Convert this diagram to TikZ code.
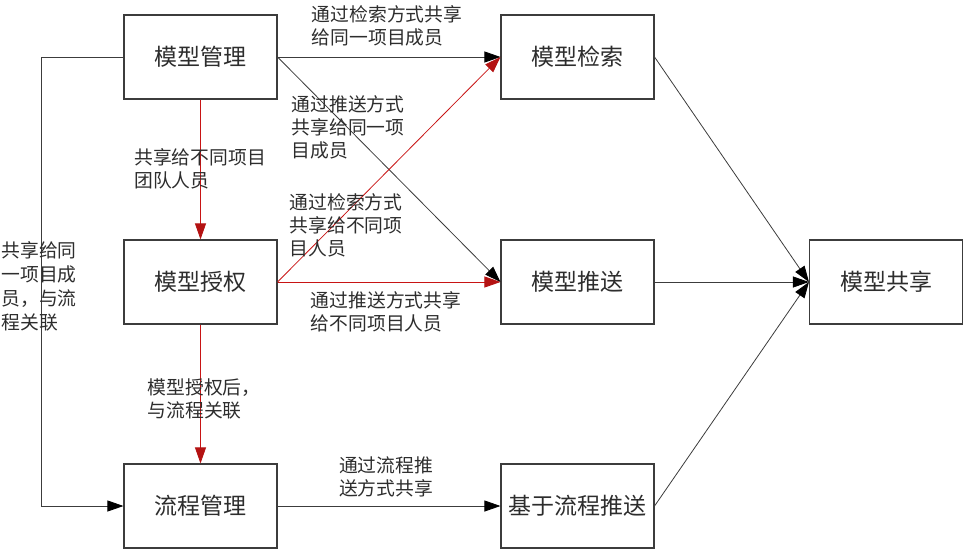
\documentclass[tikz,border=0pt]{standalone}
\usepackage{fontspec}
\newfontfamily\cjk{Noto Sans CJK SC}
\usetikzlibrary{arrows.meta}
\definecolor{lineg}{RGB}{60,60,60}
\definecolor{txtg}{RGB}{45,45,45}
\definecolor{myred}{RGB}{200,20,20}
\begin{document}
\begin{tikzpicture}[x=1pt,y=-1pt,
  box/.style={draw=lineg,line width=1.1pt,minimum width=153pt,minimum height=84pt,inner sep=0pt,
    font=\cjk\fontsize{23}{27}\selectfont,text=txtg},
  lbl/.style={font=\cjk\fontsize{18.8}{23}\selectfont,text=txtg,align=left,inner sep=0pt},
  blk/.style={draw=lineg,line width=0.8pt,-{Triangle[length=16pt,width=11pt,black]}},
  rd/.style={draw=myred,line width=0.8pt,-{Triangle[length=16pt,width=11pt,myred!90!black]}}]
\useasboundingbox (0,0) rectangle (963,549);
% boxes
\node[box] (mgmt) at (200.5,57) {模型管理};
\node[box] (auth) at (200.5,282) {模型授权};
\node[box] (flow) at (200.5,506) {流程管理};
\node[box] (srch) at (577.5,57) {模型检索};
\node[box] (push) at (577.5,282) {模型推送};
\node[box] (fpush) at (577.5,506) {基于流程推送};
\node[box] (share) at (886,282) {模型共享};
% connectors
\coordinate (lc) at (41,57);
\draw[blk] (mgmt.west) -- (lc) |- (flow.west);
\draw[blk] (mgmt.east) -- (srch.west);
\draw[blk] (mgmt.east) -- (push.west);
\draw[rd] (mgmt.south) -- (auth.north);
\draw[rd] (auth.east) -- (srch.west);
\draw[rd] (auth.east) -- (push.west);
\draw[rd] (auth.south) -- (flow.north);
\draw[blk] (flow.east) -- (fpush.west);
\draw[blk] (srch.east) -- (share.west);
\draw[blk] (push.east) -- (share.west);
\draw[blk] (fpush.east) -- (share.west);
% labels
\node[lbl] (l1) at (387,26) {通过检索方式共享\\给同一项目成员};
\node[lbl] (l2) at (348,127) {通过推送方式\\共享给同一项\\目成员};
\node[lbl] (l3) at (200,169) {共享给不同项目\\团队人员};
\node[lbl] (l4) at (346,225) {通过检索方式\\共享给不同项\\目人员};
\node[lbl] (l5) at (386,312) {通过推送方式共享\\给不同项目人员};
\node[lbl] (l6) at (204,399) {模型授权后，\\与流程关联};
\node[lbl] (l7) at (386,477) {通过流程推\\送方式共享};
\node[lbl,font=\cjk\fontsize{18.8}{24}\selectfont] (l8) at (39,286) {共享给同\\一项目成\\员，与流\\程关联};
\end{tikzpicture}
\end{document}
